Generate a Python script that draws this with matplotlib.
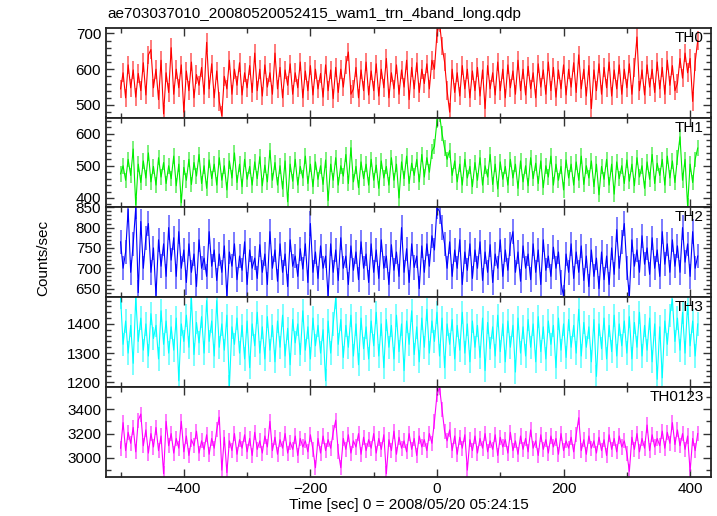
import numpy as np
import matplotlib
matplotlib.use("Agg")
import matplotlib.pyplot as plt
from matplotlib.ticker import MultipleLocator

plt.rcParams['font.family'] = ['Liberation Sans', 'DejaVu Sans']

TITLE = "ae703037010_20080520052415_wam1_trn_4band_long.qdp"
XLABEL = "Time [sec] 0 = 2008/05/20 05:24:15"
YLABEL = "Counts/sec"

T0 = -500.0      # start time of first bin [s]
BIN = 4.0        # bin width [s]

bands = ["TH0", "TH1", "TH2", "TH3", "TH0123"]

th0 = [545, 590, 520, 612, 548, 598, 522, 588, 540, 618, 528, 640, 655, 548, 600, 515, 625, 475, 590, 535,
       660, 530, 600, 548, 612, 480, 595, 540, 620, 520, 585, 555, 605, 530, 675, 545, 615, 520, 595, 510,
       470, 580, 545, 625, 530, 600, 555, 618, 528, 590, 548, 610, 535, 645, 540, 600, 525, 612, 550, 590,
       530, 645, 545, 605, 520, 598, 555, 615, 530, 590, 548, 620, 520, 595, 540, 610, 528, 600, 545, 588,
       522, 612, 540, 598, 518, 605, 535, 600, 550, 612, 648, 530, 545, 605, 520, 598, 540, 620, 528, 595,
       540, 615, 525, 600, 548, 630, 520, 590, 545, 612, 530, 598, 550, 625, 515, 605, 545, 618, 535, 600,
       560, 615, 545, 625, 600, 700, 730, 665, 620, 540, 480, 600, 535, 590, 525, 610, 545, 600, 520, 595,
       540, 605, 525, 598, 490, 610, 545, 590, 528, 620, 540, 600, 520, 612, 548, 595, 530, 625, 540, 600,
       528, 608, 545, 590, 520, 615, 550, 598, 530, 620, 540, 605, 522, 598, 545, 612, 528, 600, 550, 618,
       535, 640, 545, 600, 525, 610, 490, 598, 540, 615, 530, 605, 548, 620, 525, 598, 545, 612, 530, 600,
       548, 615, 530, 605, 690, 540, 598, 528, 612, 550, 600, 535, 620, 545, 605, 530, 625, 555, 610, 540,
       560, 630, 575, 645, 590, 630, 510, 620, 680]

th1 = [475, 500, 455, 520, 470, 552, 378, 505, 448, 515, 462, 540, 450, 498, 440, 525, 465, 510, 445, 500,
       460, 530, 438, 505, 385, 495, 455, 520, 442, 510, 468, 535, 445, 500, 430, 518, 460, 505, 440, 525,
       455, 500, 425, 515, 462, 540, 448, 505, 435, 520, 458, 498, 440, 512, 460, 528, 438, 502, 450, 548,
       455, 510, 440, 500, 428, 515, 388, 505, 452, 520, 440, 498, 462, 530, 445, 505, 435, 512, 458, 500,
       442, 518, 392, 505, 455, 525, 440, 500, 468, 535, 445, 556, 450, 498, 432, 512, 460, 505, 440, 520,
       455, 502, 430, 515, 462, 498, 440, 525, 455, 505, 400, 512, 460, 530, 445, 508, 470, 520, 450, 535,
       465, 525, 480, 545, 560, 640, 660, 600, 555, 520, 548, 470, 515, 450, 505, 440, 520, 462, 498, 435,
       510, 455, 525, 440, 500, 465, 535, 442, 505, 428, 512, 458, 498, 440, 520, 462, 505, 430, 515, 450,
       500, 438, 525, 460, 508, 445, 515, 432, 500, 465, 530, 440, 505, 455, 498, 425, 518, 462, 505, 440,
       512, 455, 530, 442, 500, 462, 515, 435, 505, 410, 498, 458, 520, 440, 505, 412, 512, 460, 500, 445,
       518, 452, 505, 438, 525, 465, 500, 430, 512, 458, 535, 445, 508, 470, 520, 440, 530, 462, 515, 448,
       525, 590, 455, 520, 375, 505, 448, 520, 555]

th2 = [765, 700, 740, 845, 690, 760, 850, 640, 815, 700, 775, 810, 690, 750, 632, 770, 705, 760, 680, 800,
       720, 775, 680, 790, 700, 745, 665, 760, 690, 735, 655, 770, 700, 725, 680, 790, 705, 745, 670, 735,
       690, 755, 630, 740, 705, 760, 672, 730, 695, 765, 660, 745, 700, 725, 675, 758, 690, 735, 660, 790,
       700, 745, 668, 760, 690, 735, 655, 770, 705, 730, 680, 748, 698, 760, 665, 810, 690, 740, 675, 755,
       700, 730, 630, 760, 690, 745, 670, 775, 700, 730, 660, 755, 695, 740, 672, 765, 700, 735, 665, 760,
       690, 745, 675, 770, 700, 730, 660, 758, 695, 740, 680, 800, 690, 748, 665, 760, 702, 730, 650, 755,
       690, 760, 705, 780, 745, 850, 840, 800, 760, 700, 765, 680, 745, 700, 770, 660, 740, 695, 760, 675,
       745, 700, 765, 670, 740, 690, 758, 665, 735, 700, 770, 680, 745, 695, 760, 790, 690, 740, 668, 755,
       700, 735, 672, 760, 690, 745, 660, 770, 695, 730, 680, 752, 700, 740, 665, 630, 735, 690, 760, 675,
       740, 690, 755, 670, 730, 655, 745, 680, 725, 650, 740, 672, 730, 660, 750, 685, 795, 700, 765, 810,
       700, 630, 770, 705, 745, 690, 780, 710, 750, 685, 775, 700, 745, 680, 790, 710, 760, 690, 770, 705,
       755, 690, 800, 715, 760, 680, 790, 700, 730]

th3 = [1490, 1330, 1410, 1300, 1395, 1265, 1490, 1340, 1420, 1310, 1400, 1290, 1435, 1350, 1395, 1280, 1445, 1330, 1410, 1300,
       1390, 1310, 1420, 1205, 1400, 1340, 1430, 1320, 1490, 1295, 1405, 1335, 1425, 1300, 1480, 1340, 1410, 1290, 1480, 1320,
       1400, 1310, 1430, 1185, 1390, 1330, 1420, 1300, 1395, 1280, 1410, 1250, 1400, 1325, 1440, 1300, 1390, 1280, 1425, 1310,
       1395, 1270, 1410, 1320, 1430, 1290, 1385, 1260, 1415, 1335, 1400, 1295, 1445, 1310, 1390, 1280, 1420, 1325, 1395, 1300,
       1380, 1205, 1410, 1300, 1400, 1490, 1330, 1415, 1285, 1395, 1320, 1430, 1290, 1400, 1260, 1420, 1315, 1390, 1280, 1410,
       1325, 1440, 1290, 1400, 1250, 1415, 1320, 1395, 1280, 1430, 1305, 1400, 1240, 1410, 1330, 1445, 1295, 1390, 1270, 1420,
       1320, 1450, 1300, 1410, 1340, 1440, 1290, 1420, 1250, 1400, 1330, 1415, 1280, 1395, 1310, 1440, 1300, 1400, 1270, 1410,
       1320, 1395, 1285, 1420, 1240, 1405, 1315, 1390, 1290, 1430, 1305, 1400, 1270, 1410, 1320, 1395, 1235, 1420, 1300, 1390,
       1290, 1415, 1320, 1400, 1270, 1425, 1305, 1390, 1280, 1410, 1330, 1395, 1250, 1420, 1310, 1400, 1285, 1415, 1320, 1395,
       1300, 1450, 1290, 1405, 1320, 1390, 1270, 1415, 1220, 1400, 1315, 1420, 1280, 1395, 1305, 1430, 1290, 1400, 1325, 1410,
       1300, 1425, 1280, 1405, 1320, 1440, 1290, 1395, 1310, 1420, 1270, 1400, 1210, 1390, 1215, 1410, 1330, 1430, 1485, 1340,
       1420, 1310, 1440, 1300, 1470, 1325, 1410, 1290, 1400]

th0123 = [3080, 3290, 3060, 3210, 3120, 3250, 3050, 3310, 3360, 3100, 3230, 3040, 3200, 3090, 3250, 3060, 3180, 2870, 3300, 3100,
          3200, 3040, 3160, 3080, 3300, 3050, 3180, 3020, 3150, 3100, 3220, 3040, 3140, 3070, 3190, 3030, 3160, 3080, 3230, 3335,
          2900, 3170, 2880, 3140, 3060, 3200, 3030, 3150, 3080, 3190, 3050, 3160, 3020, 3210, 3070, 3140, 3040, 3180, 3090, 3300,
          3060, 3170, 3030, 3150, 3080, 3200, 3040, 3130, 3070, 3180, 3020, 3160, 3090, 3140, 3050, 3190, 3070, 2920, 3160, 3040,
          3180, 3060, 3150, 3080, 3210, 3310, 3050, 2920, 3160, 3070, 3190, 3040, 3140, 3090, 3200, 3030, 3170, 3060, 3150, 3080,
          3200, 3040, 3160, 3070, 3190, 2870, 3150, 3060, 3220, 3030, 3170, 3080, 3140, 3050, 3200, 3070, 3160, 3020, 3180, 3090,
          3150, 3060, 3200, 3120, 3300, 3520, 3580, 3400, 3220, 3140, 3230, 3060, 3180, 3030, 3170, 3080, 3190, 2900, 3150, 3060,
          3180, 3040, 3160, 3080, 3200, 3050, 3140, 3070, 3190, 3020, 3170, 3090, 3150, 3040, 3210, 3060, 3140, 3030, 3180, 3070,
          3160, 3050, 3230, 3080, 3140, 3020, 3190, 3070, 3150, 3040, 3180, 3090, 3160, 3030, 3200, 3060, 3140, 3080, 3170, 3050,
          3190, 3330, 3060, 3150, 3030, 3180, 3080, 3140, 3040, 3170, 3060, 3150, 3020, 3190, 3070, 3160, 3050, 3180, 3090, 3140,
          3040, 2890, 3170, 3070, 3200, 3050, 3160, 3080, 3270, 3060, 3190, 3090, 3160, 3100, 3220, 3080, 3210, 3120, 3290, 3110,
          3230, 3100, 3200, 3070, 3180, 2890, 3160, 3060, 3200]

# typical 1-sigma error per band [counts/sec]
errors = [26, 24, 30, 40, 62]

series = [th0, th1, th2, th3, th0123]
colors = ["#ff0000", "#00ee00", "#0000ff", "#00ffff", "#ff00ff"]
light = ["#ff7070", "#70f070", "#7070ff", "#70ffff", "#ff70ff"]
ylims = [(465, 716), (371, 650), (629, 850), (1184, 1492), (2846, 3583)]
ymajor = [100, 100, 50, 100, 200]
yminor = [20, 20, 10, 20, 100]

fig = plt.figure(figsize=(7.17, 5.16), dpi=100)
gs = fig.add_gridspec(5, 1, left=106/717, right=711/717, top=1-27.7/516,
                      bottom=1-476.7/516, hspace=0)
axes = [fig.add_subplot(gs[i]) for i in range(5)]

for i, ax in enumerate(axes):
    y = np.array(series[i], dtype=float)
    t = T0 + BIN * np.arange(len(y))
    ax.errorbar(t, y, yerr=errors[i], fmt='none', ecolor=light[i], elinewidth=1.3, zorder=1)
    ax.plot(t, y, color=colors[i], lw=0.8, zorder=2)
    ax.set_xlim(-523, 433)
    ax.set_ylim(*ylims[i])
    ax.xaxis.set_major_locator(MultipleLocator(200))
    ax.xaxis.set_minor_locator(MultipleLocator(100))
    ax.yaxis.set_major_locator(MultipleLocator(ymajor[i]))
    ax.yaxis.set_minor_locator(MultipleLocator(yminor[i]))
    ax.tick_params(which='both', direction='in', top=True, right=True, labelsize=11,
                   color='#333333', width=1)
    ax.tick_params(which='major', length=6)
    ax.tick_params(which='minor', length=3.5)
    for sp in ax.spines.values():
        sp.set_linewidth(1.3)
        sp.set_color('#222222')
    ax.text(0.988, 0.965, bands[i], transform=ax.transAxes, ha='right', va='top',
            fontsize=11)
    if i < 4:
        ax.tick_params(labelbottom=False)

axes[-1].set_xlabel(XLABEL, fontsize=11, labelpad=2)
fig.text(43/717, 0.5, YLABEL, rotation=90, ha='center', va='center', fontsize=11)
fig.text(107/717, 1-14/516, TITLE, ha='left', va='center', fontsize=11)

fig.savefig("out.png", dpi=100)
